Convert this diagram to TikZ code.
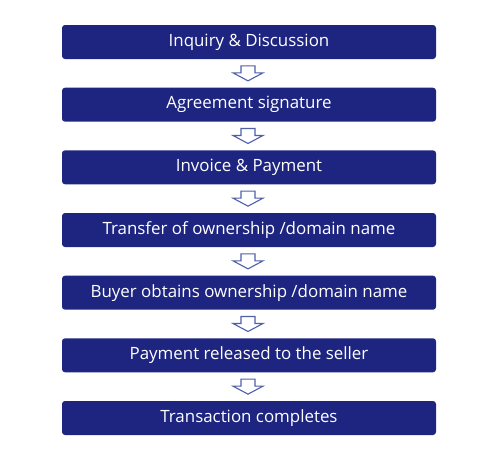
\documentclass[tikz,border=0pt]{standalone}
\usepackage{fontspec}
\setmainfont{Open Sans}
\usetikzlibrary{calc}
\definecolor{navy}{HTML}{1E2580}
\definecolor{arrowblue}{HTML}{4F5FAA}
\tikzset{
  stepbox/.style={fill=navy, rounded corners=3pt, minimum width=374pt, minimum height=34pt,
    inner sep=0pt, text=white, font=\fontsize{16.9}{20}\selectfont},
  arrowline/.style={draw=arrowblue, fill=white, line width=1.1pt, line join=miter},
  flowarrow/.pic={\draw[arrowline] (-7,-7.5) -- (7,-7.5) -- (7,-0.5) -- (15,-0.5) -- (0,7.5) -- (-15,-0.5) -- (-7,-0.5) -- cycle;}
}
\begin{document}
\begin{tikzpicture}[x=1pt,y=-1pt]
\useasboundingbox (0,0) rectangle (498,453);
\node[stepbox] (b1) at (249,42) {Inquiry \& Discussion};
\node[stepbox] (b2) at (249,104.7) {Agreement signature};
\node[stepbox] (b3) at (249,167.3) {Invoice \& Payment};
\node[stepbox] (b4) at (249,230) {Transfer of ownership /domain name};
\node[stepbox] (b5) at (249,292.7) {Buyer obtains ownership /domain name};
\node[stepbox] (b6) at (249,355.3) {Payment released to the seller};
\node[stepbox] (b7) at (249,418) {Transaction completes};
\foreach \a/\b in {b1/b2,b2/b3,b3/b4,b4/b5,b5/b6,b6/b7}
  \pic at ($(\a.south)!0.5!(\b.north)+(-1,0)$) {flowarrow};
\end{tikzpicture}
\end{document}
